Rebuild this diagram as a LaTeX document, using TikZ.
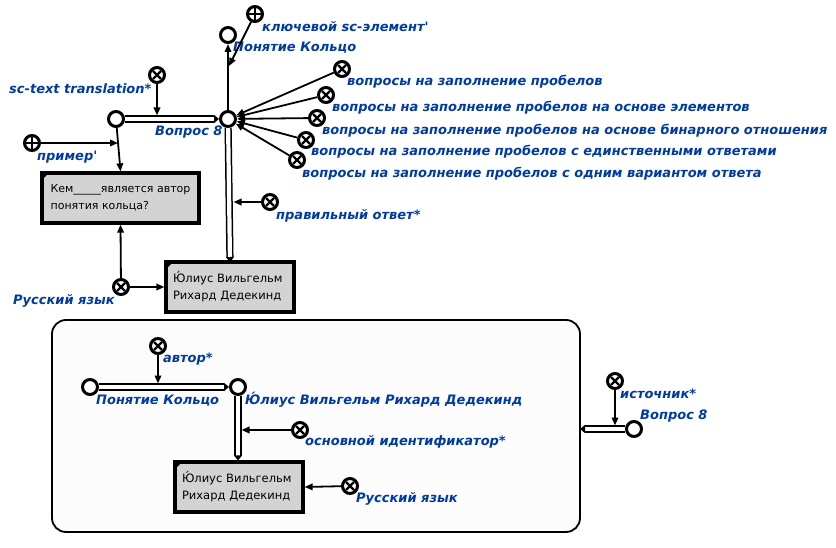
\documentclass[tikz,border=0pt]{standalone}
\usepackage{fontspec}
\setmainfont{DejaVu Sans}
\usetikzlibrary{arrows.meta, positioning}
\definecolor{scblue}{RGB}{0,59,160}
\definecolor{scgray}{RGB}{211,211,211}
\definecolor{scback}{RGB}{252,252,252}

\tikzset{
  scnode/.style={circle, draw, line width=3pt, fill=white, minimum size=15pt, inner sep=0pt},
  screl/.style={scnode, path picture={
      \draw[line width=2.2pt] ([shift={(-4pt,-4pt)}]path picture bounding box.center) -- ++(8pt,8pt)
                              ([shift={(-4pt,4pt)}]path picture bounding box.center) -- ++(8pt,-8pt);}},
  scrole/.style={scnode, path picture={
      \draw[line width=2pt] ([shift={(-6pt,0pt)}]path picture bounding box.center) -- ++(12pt,0pt)
                            ([shift={(0pt,-6pt)}]path picture bounding box.center) -- ++(0pt,12pt);}},
  sclink/.style={draw, line width=3.2pt, fill=scgray, inner sep=0pt, align=left,
      font=\fontsize{11.5}{17}\selectfont, path picture={
      \fill[black] (path picture bounding box.north west) -- ++(7pt,0pt) -- ++(-7pt,-7pt) -- cycle;}},
  sclabel/.style={inner sep=0pt, anchor=west, text=scblue,
      font=\fontsize{13}{15}\selectfont\bfseries\itshape},
  access/.style={draw, line width=1.8pt, -{Triangle[length=8pt,width=6.5pt]}},
  commonarc/.style={draw, line width=1.5pt, double=white, double distance=4.2pt,
      -{Triangle[length=5pt,width=8pt]}}
}

\begin{document}
\begin{tikzpicture}[x=1pt, y=-1pt]
  \useasboundingbox (0,0) rectangle (836,548);

  % contour
  \node[draw, line width=1.8pt, rounded corners=14pt, fill=scback,
        minimum width=528pt, minimum height=212pt] (ctr) at (316,426) {};

  % upper part
  \node[scnode]  (q8)    at (228,119) {};
  \node[scnode]  (kol)   at (228,35)  {};
  \node[scrole]  (key)   at (255,14)  {};
  \node[scnode]  (tr)    at (116,119) {};
  \node[screl]   (trrel) at (157,75)  {};
  \node[scrole]  (ex)    at (32,143)  {};
  \node[screl]   (cls1)  at (342,69)  {};
  \node[screl]   (cls2)  at (326,95)  {};
  \node[screl]   (cls3)  at (317,118) {};
  \node[screl]   (cls4)  at (306,140) {};
  \node[screl]   (cls5)  at (297,160) {};
  \node[screl]   (ans)   at (270,202) {};
  \node[screl]   (rus)   at (121,287) {};
  \node[sclink, minimum width=157pt, minimum height=50pt, font=\fontsize{11}{17}\selectfont] (box1) at (120.5,198)
    {Кем\_\_\_\_\_является автор\\понятия кольца?};
  \node[sclink, minimum width=128pt, minimum height=50pt, text width=114pt] (box2) at (230,287)
    {Ю́лиус Вильгельм\\Рихард Дедекинд};

  % inside the contour
  \node[scnode]  (kolb)  at (90,387)  {};
  \node[scnode]  (ded)   at (238,387) {};
  \node[screl]   (auth)  at (158,346) {};
  \node[screl]   (ident) at (300,430) {};
  \node[screl]   (rusb)  at (350,486) {};
  \node[sclink, minimum width=128pt, minimum height=50pt, text width=114pt] (box3) at (239,487)
    {Ю́лиус Вильгельм\\Рихард Дедекинд};

  % outside the contour
  \node[screl]   (src)   at (615,381) {};
  \node[scnode]  (q8b)   at (634,429) {};

  % points on arcs
  \coordinate (cKey)  at (229,66);
  \coordinate (cTr)   at (157,119);
  \coordinate (cEx)   at (118,143);
  \coordinate (cAns)  at (230,202);
  \coordinate (cAuth) at (158,387);
  \coordinate (cId)   at (238,430);
  \coordinate (cSrc)  at (615,429);
  \coordinate (cDown) at (230,262);
  \coordinate (cCtr)  at (580,429);

  % labels
  \node[sclabel] (lKey)  at (262,27)  {ключевой sc-элемент\textquotesingle};
  \node[sclabel] (lKol)  at (233,48)  {Понятие Кольцо};
  \node[sclabel] (lTr)   at (9,89)    {sc-text translation*};
  \node[sclabel] (lQ8)   at (155,132) {Вопрос 8};
  \node[sclabel] (lEx)   at (37,157)  {пример\textquotesingle};
  \node[sclabel] (lCls1) at (347,82)  {вопросы на заполнение пробелов};
  \node[sclabel] (lCls2) at (332,108) {вопросы на заполнение пробелов на основе элементов};
  \node[sclabel] (lCls3) at (322,131) {вопросы на заполнение пробелов на основе бинарного отношения};
  \node[sclabel] (lCls4) at (311,152) {вопросы на заполнение пробелов с единственными ответами};
  \node[sclabel] (lCls5) at (302,174) {вопросы на заполнение пробелов с одним вариантом ответа};
  \node[sclabel] (lAns)  at (276,216) {правильный ответ*};
  \node[sclabel] (lRus)  at (13,301)  {Русский язык};
  \node[sclabel] (lAuth) at (163,359) {автор*};
  \node[sclabel] (lKolb) at (96,401)  {Понятие Кольцо};
  \node[sclabel] (lDed)  at (245,400) {Ю́лиус Вильгельм Рихард Дедекинд};
  \node[sclabel] (lId)   at (305,442) {основной идентификатор*};
  \node[sclabel] (lRusb) at (356,499) {Русский язык};
  \node[sclabel] (lSrc)  at (620,394) {источник*};
  \node[sclabel] (lQ8b)  at (640,416) {Вопрос 8};

  % common arcs
  \path[commonarc] (tr) -- (q8);
  \path[commonarc] (q8) -- (cDown);
  \path[commonarc] (kolb) -- (ded);
  \path[commonarc] (ded) -- (ded |- box3.north);
  \path[commonarc] (q8b) -- (cCtr);

  \path[access]
    % Вопрос 8 -> Понятие Кольцо
    (q8) edge (kol)
    (key) edge (cKey)
    % translation
    (trrel) edge[shorten >=3.5pt] (cTr)
    (tr) edge (box1.north)
    (ex) edge (cEx)
    % classes of the question
    (cls1) edge (q8)
    (cls2) edge (q8)
    (cls3) edge (q8)
    (cls4) edge (q8)
    (cls5) edge (q8)
    % answer
    (ans) edge[shorten >=3.5pt] (cAns)
    (rus) edge (box1.south)
    (rus) edge (box2.west)
    % contour
    (auth) edge[shorten >=3.5pt] (cAuth)
    (ident) edge[shorten >=3.5pt] (cId)
    (rusb) edge (box3.east)
    (src) edge[shorten >=3.5pt] (cSrc);

\end{tikzpicture}
\end{document}
